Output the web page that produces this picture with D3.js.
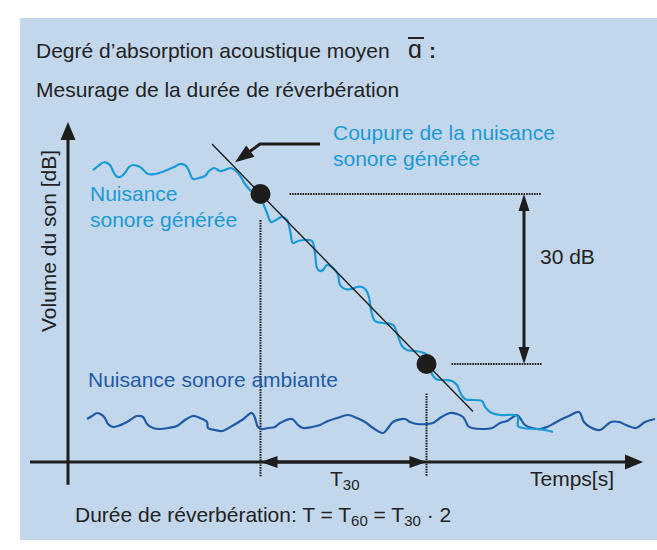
<!DOCTYPE html>
<html><head><meta charset="utf-8">
<script src="https://cdn.jsdelivr.net/npm/d3@7"></script>
<style>
body{margin:0;background:#fff}
svg{display:block}
text{font-family:"Liberation Sans",Arial,Helvetica,sans-serif}
</style>
</head><body>
<svg id="chart" width="657" height="550"></svg>
<script>
// ---------- DATA (time in arbitrary units, level in dB) ----------
const generatedNoise = [
 [5,51.5],[6,52.2],[7.2,52.9],[8.4,52.4],[9,51.35],[9.6,50.47],[10.4,50.29],[11.4,51.0],[12.2,52.06],[13,52.41],
 [14.4,52.06],[16,50.82],[17.4,50.82],[18.8,51.18],[21.2,52.06],[22.4,52.59],[23.6,52.24],[24.2,51.35],[25,49.94],
 [26.2,50.12],[27.4,50.47],[28.2,51.35],[29.2,51.88],[30.4,51.35],[31.4,51.53],[32.6,51.88],[33.6,51.35],[34.6,50.29],
 [35.4,49.06],[36.6,47.82],[37.6,47.29],[38.6,46.59],[39,45.71],[39.8,43.94],[40.6,42.35],[41.6,42.71],[42.8,43.24],
 [43.8,42.71],[44.4,40.94],[45,38.65],[46,39.0],[47.4,39.18],[48.8,39.0],[49.4,36.88],[49.8,34.24],[50.4,33.71],
 [51,33.88],[51.8,34.76],[53,34.24],[54,33.0],[54.4,31.24],[55.4,30.53],[56.8,30.53],[57.8,30.88],[58.8,30.88],
 [59.6,30.35],[60.2,29.12],[60.6,26.82],[61.4,24.88],[63,24.53],[65,24.18],[66,22.24],[66.8,20.47],[67.8,19.76],
 [69.4,19.59],[71.2,19.24],[72,18.71],[72.6,15.88],[73.6,14.65],[74.8,14.47],[76.8,14.29],[77.8,13.59],[78.4,12.35],
 [79.4,11.12],[82.8,10.76],[83.4,9.71],[84.4,8.82],[86.4,8.29],[89.4,8.29],[90,7.94],[90,6.35],[91,6.0],[93.8,5.82],
 [95.4,5.65],[97,5.29]
];
const ambientNoise = [
 [3.8,7.59],[4.8,8.12],[5.8,8.65],[6.8,8.29],[7.4,7.76],[8,6.71],[9,6.18],[10,6.35],[11.8,7.06],[13.8,8.12],[15,7.94],
 [15.8,6.71],[17,6.0],[18.4,5.82],[20,6.0],[21.8,6.35],[23.4,7.41],[25,8.12],[26.4,7.76],[27.8,7.06],[28,6.0],[29.4,5.65],
 [30.8,5.47],[32.8,6.35],[34.8,7.41],[36.8,8.65],[37.4,7.76],[38,6.18],[38.8,5.82],[40,6.0],[41.4,6.18],[42.4,6.88],
 [44.8,7.59],[46,6.53],[47,6.0],[48.8,6.18],[50.4,6.53],[52,7.24],[53.8,7.76],[56,8.29],[57.8,7.76],[59.4,7.06],[61,6.0],
 [63,5.12],[64,6.0],[65,7.06],[67.4,7.59],[68.4,7.06],[69.8,6.71],[71.8,6.71],[73,6.88],[74.4,7.76],[76.4,8.65],[77.8,8.47],
 [79,7.94],[79.6,7.06],[80,6.35],[80.8,6.0],[82.8,5.82],[84.8,6.0],[86.4,6.88],[87.8,7.24],[89,7.94],[89.8,8.29],[90.4,7.76],
 [91.4,6.53],[92.8,6.0],[94.4,5.82],[95.8,6.18],[97,6.71],[98.4,7.41],[100.2,8.12],[102.2,8.82],[103.2,7.06],[104.4,6.18],
 [106.4,5.65],[108.6,7.06],[110.2,7.06],[111.6,6.53],[113.6,6.0],[115.4,7.06],[117.4,7.59]
];
const measurePointsT = [38.5, 71.7];     // start / end of the 30 dB decay (time)
const measurePointsV = [47.3, 17.3];     // level at those points (dB)
const fitLineT = [28.8, 81];
const fitLineV = [56.1, 8.9];
const cutoffArrow = [[50.4,56.1],[38.4,56.1],[33.4,52.9]];
const levelDiffLabel = "30 dB";
const titleLines = ["Degré d’absorption acoustique moyen", "Mesurage de la durée de réverbération"];
const yAxisLabel = "Volume du son [dB]";
const xAxisLabel = "Temps[s]";
const seriesLabels = {generated:["Nuisance","sonore générée"], cutoff:["Coupure de la nuisance","sonore générée"], ambient:"Nuisance sonore ambiante"};

// ---------- SETUP ----------
const svg = d3.select("#chart");
const FS = 21, FSUB = 15;
const C_LIGHT = "#1a9ad7", C_DARK = "#1f5aa6", C_BLACK = "#1d1d1b", C_BG = "#c3d7ec", C_TXT = "#222";
const x = d3.scaleLinear().domain([0,115]).range([68,643]);
const y = d3.scaleLinear().domain([0,60]).range([462,122]);

svg.append("rect").attr("x",20).attr("y",18).attr("width",637).attr("height",522).attr("fill",C_BG);

function head(tx,ty,fx,fy,len,w){
  const dx=tx-fx, dy=ty-fy, L=Math.hypot(dx,dy), ux=dx/L, uy=dy/L;
  const bx=tx-ux*len, by=ty-uy*len, px=-uy*w/2, py=ux*w/2;
  return `M${tx},${ty}L${bx+px},${by+py}L${bx-px},${by-py}Z`;
}
function arrowLine(x1,y1,x2,y2,len,w,both,sw){
  const g=svg.append("g");
  const L=Math.hypot(x2-x1,y2-y1), ux=(x2-x1)/L, uy=(y2-y1)/L;
  const sx = both? x1+ux*(len-2):x1, sy = both? y1+uy*(len-2):y1;
  g.append("line").attr("x1",sx).attr("y1",sy).attr("x2",x2-ux*(len-2)).attr("y2",y2-uy*(len-2))
    .attr("stroke",C_BLACK).attr("stroke-width",sw);
  g.append("path").attr("d",head(x2,y2,x1,y1,len,w)).attr("fill",C_BLACK);
  if(both) g.append("path").attr("d",head(x1,y1,x2,y2,len,w)).attr("fill",C_BLACK);
}

// ---------- TITLES ----------
svg.append("text").attr("x",36).attr("y",58).attr("font-size",FS).attr("fill",C_TXT).text(titleLines[0]);
svg.append("text").attr("x",408).attr("y",58).attr("font-size",25).attr("fill",C_TXT).text("ɑ");
svg.append("line").attr("x1",408).attr("x2",424).attr("y1",38).attr("y2",38).attr("stroke",C_TXT).attr("stroke-width",2);
svg.append("text").attr("x",429).attr("y",58).attr("font-size",FS).attr("font-weight","bold").attr("fill",C_TXT).text(":");
svg.append("text").attr("x",36).attr("y",97).attr("font-size",FS).attr("fill",C_TXT).text(titleLines[1]);

// ---------- AXES ----------
arrowLine(x(0), y(-4), x(0), y(60), 18, 15, false, 3);
arrowLine(x(-7.6), y(0), x(115), y(0), 18, 15, false, 3);
svg.append("text").attr("transform",`translate(56,${241}) rotate(-90)`).attr("text-anchor","middle")
  .attr("font-size",FS).attr("fill",C_TXT).text(yAxisLabel);
svg.append("text").attr("x",530).attr("y",486).attr("font-size",FS).attr("fill",C_TXT).text(xAxisLabel);

// ---------- DOTTED GUIDES ----------
const dotted = (x1,y1,x2,y2)=>svg.append("line").attr("x1",x1).attr("y1",y1).attr("x2",x2).attr("y2",y2)
  .attr("stroke",C_BLACK).attr("stroke-width",2).attr("stroke-dasharray","1.6,1");
dotted(x(44.3), y(measurePointsV[0]), x(94.7), y(measurePointsV[0]));
dotted(x(76.7), y(measurePointsV[1]), x(94.7), y(measurePointsV[1]));
dotted(x(measurePointsT[0]), y(42.7), x(measurePointsT[0]), y(-2.5));
dotted(x(measurePointsT[1]), y(12.1), x(measurePointsT[1]), y(-2.5));

// 30 dB arrow
arrowLine(x(91.2), y(measurePointsV[0]), x(91.2), y(measurePointsV[1]), 17, 11, true, 3);
svg.append("text").attr("x",540).attr("y",264).attr("font-size",FS).attr("fill",C_TXT).text(levelDiffLabel);

// T30 arrow on the time axis
arrowLine(x(measurePointsT[0]), y(0), x(measurePointsT[1]), y(0), 17, 12, true, 3);
const t30 = svg.append("text").attr("x",330).attr("y",486).attr("font-size",FS).attr("fill",C_TXT);
t30.append("tspan").text("T");
t30.append("tspan").attr("font-size",FSUB).attr("dy",4).text("30");

// ---------- CURVES ----------
const line = d3.line().x(d=>x(d[0])).y(d=>y(d[1])).curve(d3.curveCatmullRom.alpha(0.5));
svg.append("path").attr("d",line(ambientNoise)).attr("fill","none").attr("stroke",C_DARK).attr("stroke-width",2.2);
svg.append("path").attr("d",line(generatedNoise)).attr("fill","none").attr("stroke",C_LIGHT).attr("stroke-width",2.2);
svg.append("line").attr("x1",x(fitLineT[0])).attr("y1",y(fitLineV[0])).attr("x2",x(fitLineT[1])).attr("y2",y(fitLineV[1]))
  .attr("stroke",C_BLACK).attr("stroke-width",1.4);
svg.selectAll("circle.m").data(measurePointsT).join("circle").attr("class","m")
  .attr("cx",d=>x(d)).attr("cy",(d,i)=>y(measurePointsV[i])).attr("r",10).attr("fill",C_BLACK);

// cut-off pointer arrow
const ca = cutoffArrow.map(p=>[x(p[0]),y(p[1])]);
const last=ca[2], prev=ca[1];
{
  const L=Math.hypot(last[0]-prev[0],last[1]-prev[1]), ux=(last[0]-prev[0])/L, uy=(last[1]-prev[1])/L;
  const stop=[last[0]-ux*16,last[1]-uy*16];
  svg.append("path").attr("d",d3.line()([ca[0],ca[1],stop])).attr("fill","none").attr("stroke",C_BLACK).attr("stroke-width",3);
  svg.append("path").attr("d",head(last[0],last[1],prev[0],prev[1],19,14)).attr("fill",C_BLACK);
}

// ---------- SERIES LABELS ----------
svg.append("text").attr("x",333).attr("y",140).attr("font-size",FS).attr("fill",C_LIGHT).text(seriesLabels.cutoff[0]);
svg.append("text").attr("x",333).attr("y",166).attr("font-size",FS).attr("fill",C_LIGHT).text(seriesLabels.cutoff[1]);
svg.append("text").attr("x",90).attr("y",201).attr("font-size",FS).attr("fill",C_LIGHT).text(seriesLabels.generated[0]);
svg.append("text").attr("x",90).attr("y",227).attr("font-size",FS).attr("fill",C_LIGHT).text(seriesLabels.generated[1]);
svg.append("text").attr("x",88).attr("y",387).attr("font-size",FS).attr("fill",C_DARK).text(seriesLabels.ambient);

// ---------- FORMULA ----------
const f = svg.append("text").attr("x",75).attr("y",522).attr("font-size",FS).attr("fill",C_TXT);
f.append("tspan").text("Durée de réverbération: T = T");
f.append("tspan").attr("font-size",FSUB).attr("dy",4).text("60");
f.append("tspan").attr("dy",-4).text(" = T");
f.append("tspan").attr("font-size",FSUB).attr("dy",4).text("30");
f.append("tspan").attr("dy",-4).text(" · 2");
</script>
</body></html>
